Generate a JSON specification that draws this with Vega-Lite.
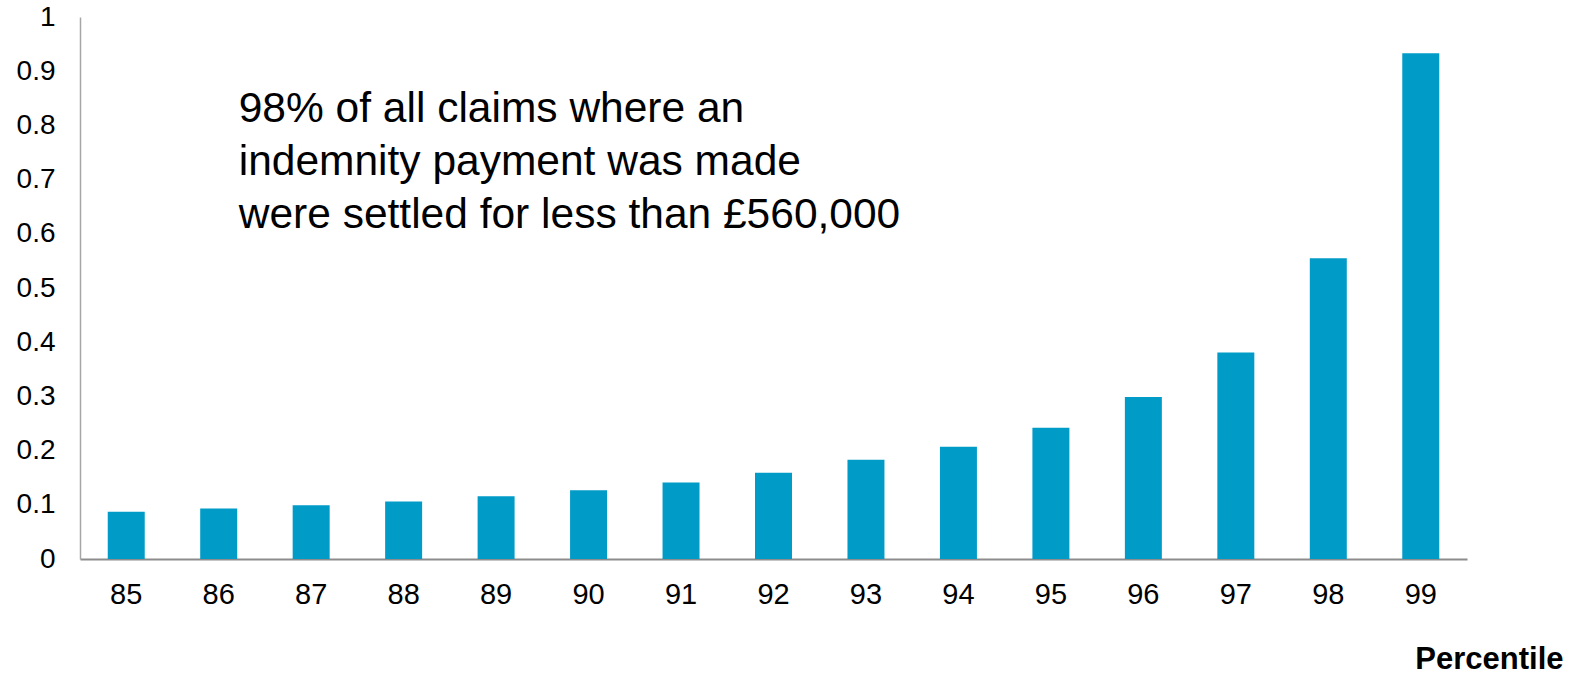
{
  "$schema": "https://vega.github.io/schema/vega-lite/v6.json",
  "width": 1387,
  "height": 542,
  "autosize": {"type": "none"},
  "padding": {"left": 80, "top": 17, "right": 102, "bottom": 115},
  "background": "white",
  "config": {"view": {"stroke": null}, "font": "Liberation Sans"},
  "data": {
    "values": [
      {"percentile": 85, "value": 0.087},
      {"percentile": 86, "value": 0.093},
      {"percentile": 87, "value": 0.099},
      {"percentile": 88, "value": 0.106},
      {"percentile": 89, "value": 0.116},
      {"percentile": 90, "value": 0.127},
      {"percentile": 91, "value": 0.141},
      {"percentile": 92, "value": 0.159},
      {"percentile": 93, "value": 0.183},
      {"percentile": 94, "value": 0.207},
      {"percentile": 95, "value": 0.242},
      {"percentile": 96, "value": 0.299},
      {"percentile": 97, "value": 0.381},
      {"percentile": 98, "value": 0.555},
      {"percentile": 99, "value": 0.933}
    ]
  },
  "layer": [
    {
      "mark": {"type": "bar", "color": "#009bc7"},
      "encoding": {
        "x": {
          "field": "percentile",
          "type": "ordinal",
          "scale": {"paddingInner": 0.6, "paddingOuter": 0.3},
          "axis": {
            "title": "Percentile",
            "titleFontSize": 31,
            "titleFontWeight": "bold",
            "titleColor": "#000000",
            "titleAlign": "right",
            "titleAnchor": null,
            "titleX": 1483,
            "titleY": 109,
            "titleBaseline": "alphabetic",
            "labelAngle": 0,
            "labelFontSize": 29,
            "labelColor": "#000000",
            "labelPadding": 21,
            "ticks": false,
            "grid": false,
            "domainColor": "#8c8c8c",
            "domainWidth": 2
          }
        },
        "y": {
          "field": "value",
          "type": "quantitative",
          "scale": {"domain": [0, 1], "nice": false},
          "axis": {
            "title": null,
            "values": [0, 0.1, 0.2, 0.3, 0.4, 0.5, 0.6, 0.7, 0.8, 0.9, 1],
            "format": "~g",
            "labelFontSize": 28,
            "labelColor": "#000000",
            "labelPadding": 25,
            "ticks": false,
            "grid": false,
            "domainColor": "#a6a6a6",
            "domainWidth": 1.5
          }
        }
      }
    },
    {
      "data": {"values": [{"note": "98% of all claims where an\nindemnity payment was made\nwere settled for less than £560,000"}]},
      "mark": {
        "type": "text",
        "align": "left",
        "baseline": "alphabetic",
        "fontSize": 42.5,
        "lineHeight": 53,
        "lineBreak": "\n",
        "color": "#000000",
        "dx": 20
      },
      "encoding": {
        "x": {"datum": 86, "type": "ordinal"},
        "y": {"datum": 0.807, "type": "quantitative"},
        "text": {"field": "note"}
      }
    }
  ]
}
